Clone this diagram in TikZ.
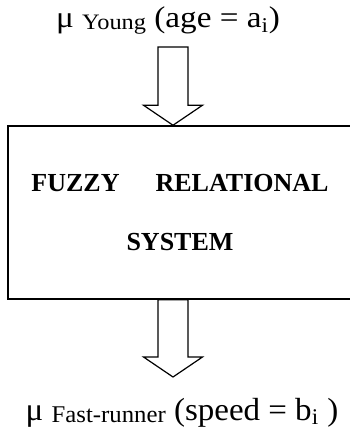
\documentclass[tikz,border=0pt]{standalone}
\usepackage{fontspec}
\setmainfont{Liberation Serif}
\usetikzlibrary{calc,positioning}

\tikzset{
  frsbox/.style={draw,line width=1.5pt,minimum width=344pt,minimum height=173pt,
    inner sep=0pt,align=center,font=\bfseries\fontsize{26}{59}\selectfont},
  hollow/.style={draw,line width=1.2pt,line join=miter},
  memtop/.style={anchor=base,inner sep=0pt,font=\fontsize{20}{20}\selectfont,
    xscale=1.66,yscale=1.5,transform shape},
  membot/.style={anchor=base,inner sep=0pt,font=\fontsize{20}{20}\selectfont,
    xscale=1.65,yscale=1.6,transform shape},
}
% hollow block arrow: #1 top of shaft, #2 tip
\newcommand{\blockdown}[2]{%
  \draw[hollow] ($(#1)+(-15,0)$) -- ($(#2)+(-15,20)$) -- ($(#2)+(-29.5,20)$) -- (#2)
    -- ($(#2)+(29.5,20)$) -- ($(#2)+(15,20)$) -- ($(#1)+(15,0)$) -- cycle;}
\newcommand{\subtext}[2]{{\fontsize{#1}{#1}\selectfont\raisebox{-1.3pt}{#2}}}

\begin{document}
\begin{tikzpicture}[x=1pt,y=1pt]
  \useasboundingbox (0,0) rectangle (349,439);
  \node[frsbox] (frs) at (180,226.5) {FUZZY\hspace{36pt}RELATIONAL\\SYSTEM};
  \node[memtop] (young) at (168,411) {μ \subtext{14.7}{Young} (age = a\textsubscript{i})};
  \node[membot] (fast) at (182,19) {μ \subtext{15}{Fast-runner} (speed = b\textsubscript{i} )};
  % arrows in and out
  \coordinate (intop) at (173,392);
  \coordinate (intip) at (intop |- frs.north);
  \blockdown{intop}{intip}
  \coordinate (outtop) at (intop |- frs.south);
  \coordinate (outtip) at (173,62);
  \blockdown{outtop}{outtip}
\end{tikzpicture}
\end{document}
